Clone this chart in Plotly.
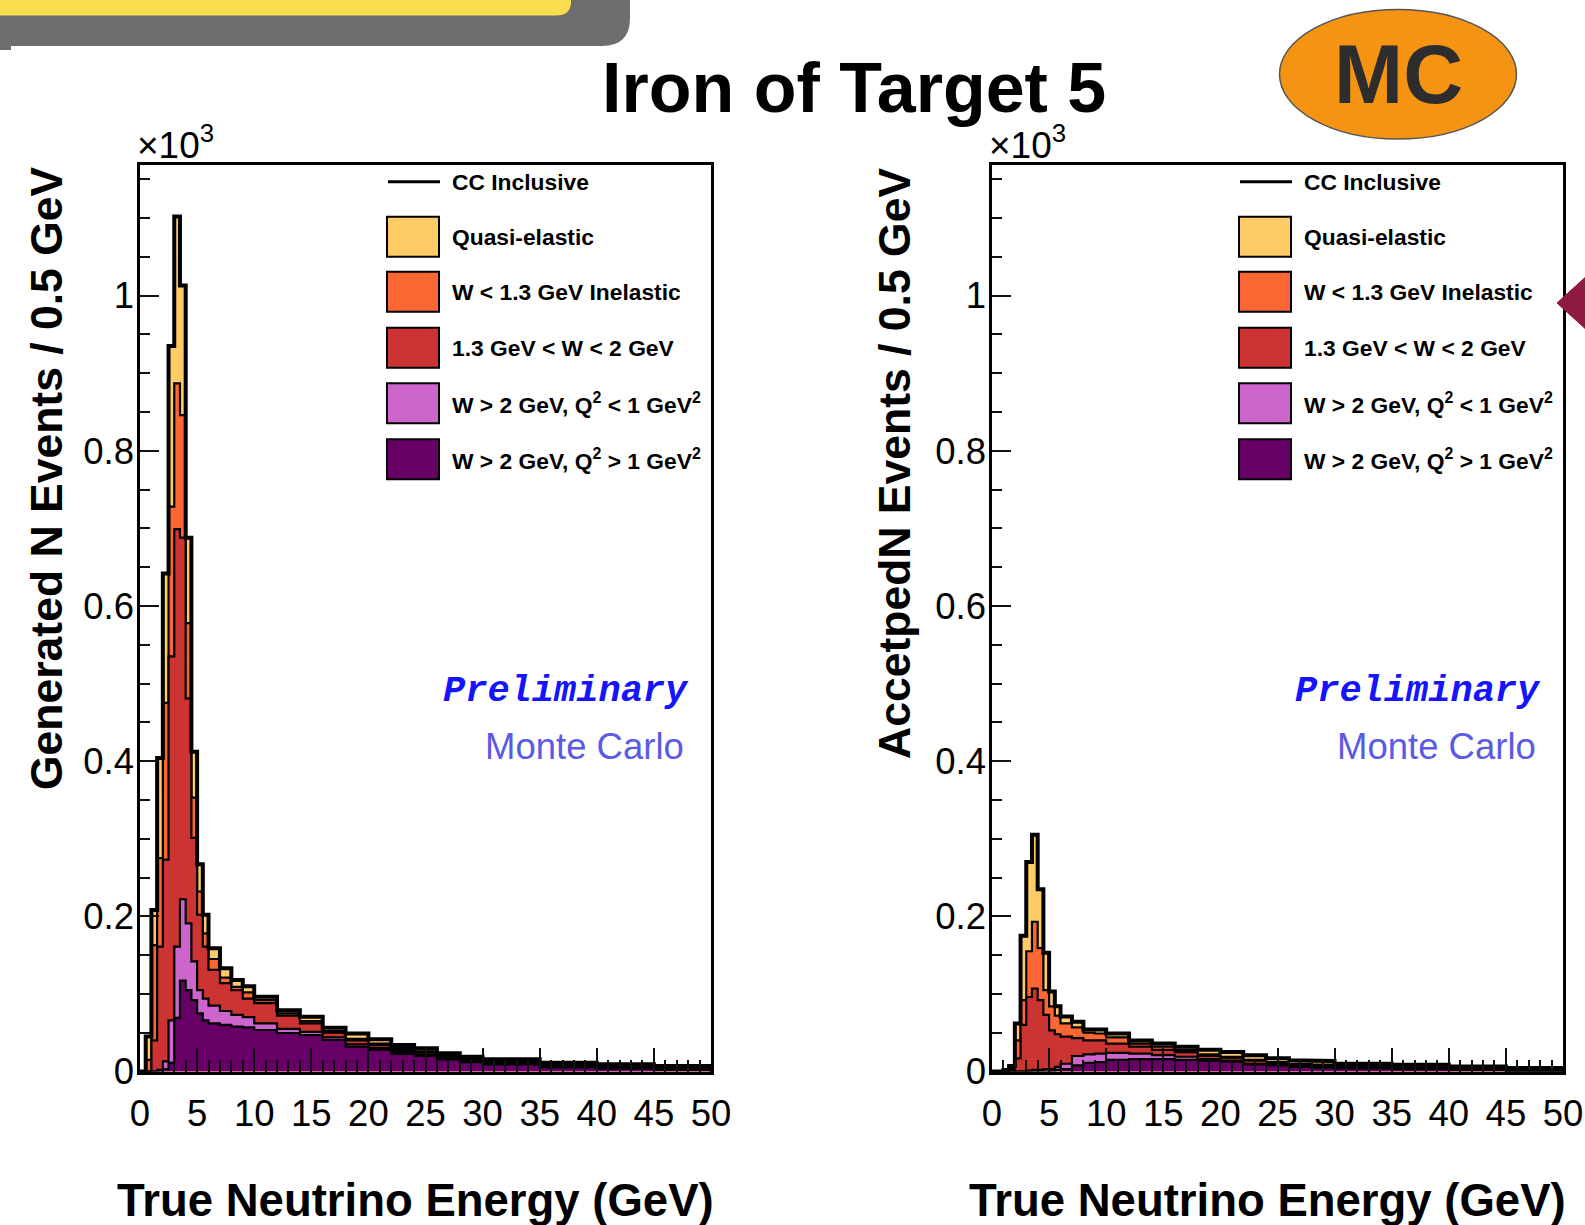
import plotly.graph_objects as go

W, H = 1585, 1225

# Variable-width bins of true neutrino energy (GeV)
bin_edges = [0, 0.5, 1.0, 1.5, 2.0, 2.5, 3.0, 3.5, 4.0, 4.5, 5.0, 5.5, 6, 7, 8, 9, 10,
             12, 14, 16, 18, 20, 22, 24, 26, 28, 30, 35, 40, 45, 50]

categories = ["Quasi-elastic",
              "W < 1.3 GeV Inelastic",
              "1.3 GeV < W < 2 GeV",
              "W > 2 GeV, Q<sup>2</sup> < 1 GeV<sup>2</sup>",
              "W > 2 GeV, Q<sup>2</sup> > 1 GeV<sup>2</sup>"]
colors = ["#FECB66", "#FC6633", "#CC3333", "#CC66CC", "#660066"]

# Generated events per bin and interaction channel
gen_qe = [0, 30, 45, 129, 167, 207, 215, 167, 110, 59, 35, 24, 14, 12, 9, 8,
          4.5, 4, 5.7, 4.5, 7, 5.5, 4, 4, 3.5, 3, 2.7, 2.4, 2.8, 2.1]
gen_res1 = [0, 15, 123, 114, 202, 193, 188, 158, 97, 52, 30, 17, 14, 7, 4, 8,
            4, 3, 3, 2, 2, 2, 2, 1, 1, 1, 1, 1, 1, 1]
gen_res2 = [0, 0, 40, 159, 260, 469, 538, 466, 290, 159, 97, 67, 46, 36, 32, 24,
            26, 17, 11, 6, 5, 4, 3, 3, 2, 2, 2, 2, 1.5, 1.5]
gen_dis_lo = [0, 0, 0, 2, 10, 55, 92, 105, 86, 50, 30, 28, 23, 18, 15, 13,
              8.5, 5.4, 4, 3.4, 3, 2.3, 2.4, 2, 1.3, 1.1, 0.7, 0.6, 0.4, 0.5]
gen_dis_hi = [0, 0, 0, 0, 3, 11, 69, 117, 105, 92, 75, 66, 62, 60, 58, 57,
              53.5, 49.6, 47, 40.6, 32, 27.7, 22.6, 20, 15.7, 11.9, 9.3, 5.4, 3.6, 2]

# Accepted events per bin and interaction channel
acc_qe = [0, 0, 2, 3, 22, 83, 115, 112, 76, 48, 19, 12, 9, 7, 4, 5,
          5, 4, 4, 4, 6, 6, 6, 5, 4.5, 4.5, 3, 3.2, 2.5, 2.5]
acc_res1 = [0, 0, 0, 2, 23, 32, 59, 86, 67, 32, 31, 24, 17, 14, 10, 9,
            8, 4, 4, 3, 2, 1, 1, 1, 1, 1, 1, 0.5, 0.5, 0.5]
acc_res2 = [0, 0, 0, 2, 17, 60, 95, 105, 90, 70, 50, 42, 35, 23, 18, 17,
            12, 9, 7, 6, 4, 4, 4, 2, 2, 2, 1.5, 1.5, 1, 1]
acc_dis_lo = [0, 0, 0, 0, 0, 0, 1, 2, 2, 3, 2, 4, 7, 12, 11, 11,
              9, 7, 5, 4, 2, 1.3, 1, 1, 1, 1, 0.5, 0.5, 0.5, 0.5]
acc_dis_hi = [0, 0, 0, 0, 0, 0, 0, 0, 0, 0, 1, 2, 3, 8, 11, 12,
              15, 16, 16, 15, 14, 12.7, 9, 8, 6, 5, 4, 3, 2, 0]

x_ticks = [0, 5, 10, 15, 20, 25, 30, 35, 40, 45, 50]
y_ticks = [0, 0.2, 0.4, 0.6, 0.8, 1]

FONT = "Liberation Sans, Arial, sans-serif"


def fx(px):
    return px / W


def fy(py):
    return 1 - py / H


def step_outline(edges, vals):
    xs, ys = [edges[0]], [0]
    for i, v in enumerate(vals):
        xs += [edges[i], edges[i + 1]]
        ys += [v, v]
    xs.append(edges[-1])
    ys.append(0)
    return xs, ys


fig = go.Figure()

panels = [
    dict(xa="x", ya="y", left=140, layers=[gen_dis_hi, gen_dis_lo, gen_res2, gen_res1, gen_qe],
         ytitle="Generated N Events / 0.5 GeV", ytitle_x=46, ytitle_y=478),
    dict(xa="x2", ya="y2", left=992, layers=[acc_dis_hi, acc_dis_lo, acc_res2, acc_res1, acc_qe],
         ytitle="AccetpedN Events / 0.5 GeV", ytitle_x=894, ytitle_y=464),
]
stack_colors = colors[::-1]  # bottom of the stack first

for p in panels:
    # cumulative stack, in units of 10^3 events
    cum = []
    running = [0.0] * (len(bin_edges) - 1)
    for layer in p["layers"]:
        running = [r + v for r, v in zip(running, layer)]
        cum.append([r / 1000.0 for r in running])
    # draw from the top of the stack downwards so lower layers overdraw
    for k in range(len(cum) - 1, -1, -1):
        xs, ys = step_outline(bin_edges, cum[k])
        fig.add_trace(go.Scatter(x=xs, y=ys, mode="lines", fill="toself",
                                 fillcolor=stack_colors[k],
                                 line=dict(color="black", width=2.2),
                                 xaxis=p["xa"], yaxis=p["ya"], showlegend=False,
                                 hoverinfo="skip"))
    xs, ys = step_outline(bin_edges, cum[-1])
    fig.add_trace(go.Scatter(x=xs, y=ys, mode="lines", line=dict(color="black", width=4),
                             xaxis=p["xa"], yaxis=p["ya"], showlegend=False,
                             name="CC Inclusive"))

ytop, ybot = 164.5, 1071.5
axis_common = dict(showline=True, linecolor="black", linewidth=2.5, mirror=True,
                   showgrid=False, zeroline=False, ticks="inside", tickcolor="#111",
                   tickwidth=2, automargin=False,
                   tickfont=dict(family=FONT, size=36.5, color="black"))

for i, p in enumerate(panels):
    sfx = "" if i == 0 else "2"
    fig.layout["xaxis" + sfx] = dict(
        axis_common, domain=[fx(p["left"]), fx(p["left"] + 571)], range=[0, 50],
        anchor="y" + sfx, tickmode="array", tickvals=x_ticks, ticklen=24,
        ticklabelstandoff=8,
        minor=dict(ticks="inside", dtick=1, tick0=0, ticklen=12, tickwidth=2, tickcolor="#111"))
    fig.layout["yaxis" + sfx] = dict(
        axis_common, domain=[fy(ybot), fy(ytop)], range=[0, 1.169],
        anchor="x" + sfx, tickmode="array", tickvals=y_ticks,
        ticktext=["0", "0.2", "0.4", "0.6", "0.8", "1"], ticklen=19,
        ticklabelstandoff=-4,
        minor=dict(ticks="inside", dtick=0.05, tick0=0, ticklen=10, tickwidth=2, tickcolor="#111"))

shapes = []
annotations = []


def pxpath(points, close=True):
    d = ""
    for cmd, pts in points:
        for a, b in pts:
            d += f"{cmd} {fx(a):.5f},{fy(b):.5f} "
    return d + ("Z" if close else "")


# slide banner (grey band with yellow strip)
shapes.append(dict(type="path", xref="paper", yref="paper", line=dict(width=0),
                   fillcolor="#6D6D6D",
                   path=f"M {fx(0):.5f},{fy(0):.5f} L {fx(630):.5f},{fy(0):.5f} "
                        f"L {fx(630):.5f},{fy(18):.5f} Q {fx(630):.5f},{fy(46):.5f} "
                        f"{fx(602):.5f},{fy(46):.5f} L {fx(0):.5f},{fy(46):.5f} Z"))
shapes.append(dict(type="path", xref="paper", yref="paper", line=dict(width=0),
                   fillcolor="#F9DC50",
                   path=f"M {fx(0):.5f},{fy(0):.5f} L {fx(571):.5f},{fy(0):.5f} "
                        f"L {fx(571):.5f},{fy(2):.5f} Q {fx(571):.5f},{fy(15.5):.5f} "
                        f"{fx(556):.5f},{fy(15.5):.5f} L {fx(0):.5f},{fy(15.5):.5f} Z"))
shapes.append(dict(type="rect", xref="paper", yref="paper", line=dict(width=0),
                   fillcolor="#6D6D6D", x0=fx(0), x1=fx(11), y0=fy(50), y1=fy(46)))
# marker at the right edge of the slide
shapes.append(dict(type="path", xref="paper", yref="paper", layer="above",
                   line=dict(color="#8E1B3F", width=1), fillcolor="#8E1B3F",
                   path=pxpath([("M", [(1557, 303)]), ("L", [(1590, 273), (1590, 333)])])))
# MC badge
shapes.append(dict(type="circle", xref="paper", yref="paper", fillcolor="#F59312",
                   line=dict(color="#555555", width=1.5),
                   x0=fx(1279.5), x1=fx(1516.5), y0=fy(139), y1=fy(9.5)))
annotations.append(dict(text="<b>MC</b>", x=fx(1398), y=fy(75), xref="paper", yref="paper",
                        showarrow=False, xanchor="center", yanchor="middle",
                        font=dict(family=FONT, size=83, color="#2D2D2D")))
annotations.append(dict(text="<b>Iron of Target 5</b>", x=fx(853.5), y=fy(88), xref="paper",
                        yref="paper", showarrow=False, xanchor="center", yanchor="middle",
                        font=dict(family=FONT, size=70, color="black")))

for p in panels:
    L = p["left"]
    off = L - 140
    # legend
    shapes.append(dict(type="line", xref="paper", yref="paper",
                       x0=fx(388 + off), x1=fx(440 + off), y0=fy(181.7), y1=fy(181.7),
                       line=dict(color="black", width=3)))
    annotations.append(dict(text="<b>CC Inclusive</b>", x=fx(450 + off), y=fy(182),
                            xref="paper", yref="paper", showarrow=False, xanchor="left",
                            yanchor="middle", font=dict(family=FONT, size=22.8, color="black")))
    centers = [236.7, 291.7, 347.7, 403.3, 459.3]
    for name, col, c in zip(categories, colors, centers):
        shapes.append(dict(type="rect", xref="paper", yref="paper", fillcolor=col,
                           line=dict(color="black", width=2),
                           x0=fx(387 + off), x1=fx(439 + off), y0=fy(c + 20), y1=fy(c - 20)))
        annotations.append(dict(text="<b>" + name + "</b>", x=fx(450 + off), y=fy(c),
                                xref="paper", yref="paper", showarrow=False, xanchor="left",
                                yanchor="middle", font=dict(family=FONT, size=22.8, color="black")))
    annotations.append(dict(text="<b><i>Preliminary</i></b>", x=fx(690.5 + off), y=fy(691),
                            xref="paper", yref="paper", showarrow=False, xanchor="right",
                            yanchor="middle",
                            font=dict(family="Liberation Mono, Courier New, monospace",
                                      size=37, color="#1414FF")))
    annotations.append(dict(text="Monte Carlo", x=fx(685.5 + off), y=fy(746),
                            xref="paper", yref="paper", showarrow=False, xanchor="right",
                            yanchor="middle", font=dict(family=FONT, size=36.5, color="#5A5AE6")))
    annotations.append(dict(text="\u00d710<sup>3</sup>", x=fx(135 + off), y=fy(168),
                            xref="paper", yref="paper", showarrow=False, xanchor="left",
                            yanchor="bottom", font=dict(family=FONT, size=37, color="black")))
    annotations.append(dict(text="<b>True Neutrino Energy (GeV)</b>", x=fx(716 + off), y=fy(1200),
                            xref="paper", yref="paper", showarrow=False, xanchor="right",
                            yanchor="middle", font=dict(family=FONT, size=45.5, color="black")))
    annotations.append(dict(text="<b>" + p["ytitle"] + "</b>", x=fx(p["ytitle_x"]),
                            y=fy(p["ytitle_y"]), xref="paper", yref="paper", showarrow=False,
                            textangle=-90, xanchor="center", yanchor="middle",
                            font=dict(family=FONT, size=44.5, color="black")))

fig.update_layout(width=W, height=H, margin=dict(l=0, r=0, t=0, b=0, pad=0), autosize=False,
                  paper_bgcolor="white", plot_bgcolor="white", showlegend=False,
                  shapes=shapes, annotations=annotations)

fig.write_html("out.html")
